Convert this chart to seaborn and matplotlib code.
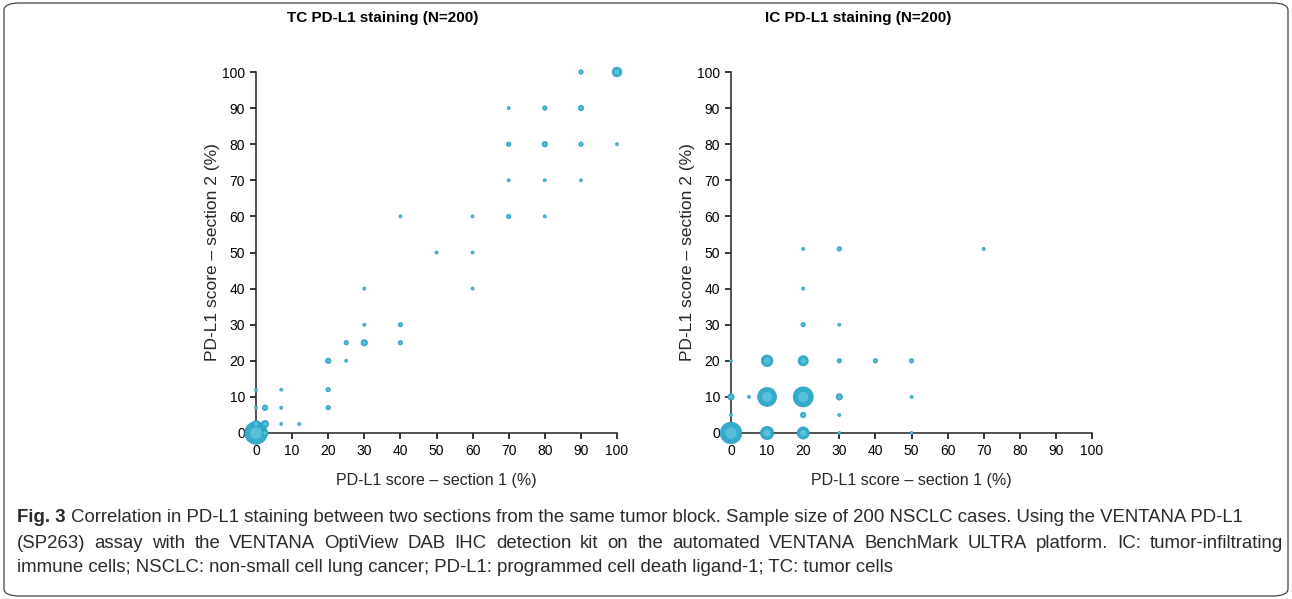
import pandas as pd
import seaborn as sns
import matplotlib.pyplot as plt
from matplotlib.patches import FancyBboxPatch

# TC panel: section 1 score, section 2 score, number of cases
tc_x = [0, 2.5, 0, 2.5, 7, 12, 0, 2.5, 7, 20, 0, 7, 20, 20, 25, 25, 30, 40, 30, 40,
        30, 60, 50, 60, 40, 60, 70, 80, 70, 80, 90, 70, 80, 90, 100, 70, 80, 90, 90, 100]
tc_y = [0, 0, 2.5, 2.5, 2.5, 2.5, 7, 7, 7, 7, 12, 12, 12, 20, 20, 25, 25, 25, 30, 30,
        40, 40, 50, 50, 60, 60, 60, 60, 70, 70, 70, 80, 80, 80, 80, 90, 90, 90, 100, 100]
tc_n = [48, 4, 5, 5, 1, 1, 1, 3, 1, 2, 1, 1, 2, 3, 1, 2, 4, 2, 1, 2,
        1, 1, 1, 1, 1, 1, 2, 1, 1, 1, 1, 2, 3, 2, 1, 1, 2, 3, 2, 9]

# IC panel
ic_x = [0, 10, 20, 30, 50, 0, 20, 30, 0, 5, 10, 20, 30, 50,
        0, 10, 20, 30, 40, 50, 20, 30, 20, 20, 30, 70]
ic_y = [0, 0, 0, 0, 0, 5, 5, 5, 10, 10, 10, 10, 10, 10,
        20, 20, 20, 20, 20, 20, 30, 30, 40, 51, 51, 51]
ic_n = [44, 17, 14, 1, 1, 1, 3, 1, 4, 1, 34, 38, 4, 1,
        1, 13, 10, 2, 2, 2, 2, 1, 1, 1, 2, 1]

ticks = list(range(0, 101, 10))
titles = ["TC PD-L1 staining (N=200)", "IC PD-L1 staining (N=200)"]
xlab = "PD-L1 score \u2013 section 1 (%)"
ylab = "PD-L1 score \u2013 section 2 (%)"

cap_bold = "Fig. 3"
cap_lines = [
    "Correlation in PD-L1 staining between two sections from the same tumor block. Sample size of 200 NSCLC cases. Using the VENTANA PD-L1",
    "(SP263) assay with the VENTANA OptiView DAB IHC detection kit on the automated VENTANA BenchMark ULTRA platform. IC: tumor-infiltrating",
    "immune cells; NSCLC: non-small cell lung cancer; PD-L1: programmed cell death ligand-1; TC: tumor cells",
]

sns.set_style("ticks")
plt.rcParams['font.family'] = ['Liberation Sans', 'DejaVu Sans']

W, H = 1292, 599
fig = plt.figure(figsize=(W / 100, H / 100), dpi=100)

def bubbles(ax, x, y, n):
    df = pd.DataFrame({'x': x, 'y': y, 'n': n})
    sns.scatterplot(data=df, x='x', y='y', size='n', sizes=(5.6, 280), size_norm=(1, 50),
                    color='#33abcb', edgecolor='#2890b0', linewidth=0.3, legend=False,
                    ax=ax, clip_on=False, zorder=3)
    sns.scatterplot(data=df, x='x', y='y', size='n', sizes=(1.5, 75), size_norm=(1, 50),
                    color='#78d2e6', linewidth=0, alpha=0.55, legend=False,
                    ax=ax, clip_on=False, zorder=4)
    ax.set_xlim(0, 100)
    ax.set_ylim(0, 100)
    ax.set_xticks(ticks)
    ax.set_yticks(ticks)
    ax.tick_params(direction='out', length=4.5, width=1.1, labelsize=10, colors='black')
    for s in ['top', 'right']:
        ax.spines[s].set_visible(False)
    for s in ['left', 'bottom']:
        ax.spines[s].set_linewidth(1.1)
        ax.spines[s].set_color('#222222')
    ax.set_xlabel(xlab, fontsize=11.5, labelpad=11)
    ax.set_ylabel(ylab, fontsize=12.5, labelpad=1)

ax1 = fig.add_axes([256 / W, 1 - 433 / H, 361 / W, 361 / H])
ax2 = fig.add_axes([731 / W, 1 - 433 / H, 361 / W, 361 / H])
bubbles(ax1, tc_x, tc_y, tc_n)
bubbles(ax2, ic_x, ic_y, ic_n)

# panel titles
for cx, title in zip([383, 858], titles):
    fig.text(cx / W, 1 - 18 / H, title, fontsize=11, fontweight='bold',
             ha='center', va='center', color='black')

# caption
cap_size = 13.4
cap_col = '#2a2a2a'
ys = [518, 543, 568]
r = fig.canvas.get_renderer()
t = fig.text(17 / W, 1 - ys[0] / H, cap_bold, fontsize=cap_size, fontweight='bold',
             va='center', color=cap_col)
bb = t.get_window_extent(renderer=r)
fig.text((bb.x1 + 5) / W, 1 - ys[0] / H, cap_lines[0], fontsize=cap_size,
         va='center', color=cap_col)

# second line is justified to the right margin
words = cap_lines[1].split()
widths = []
for w in words:
    tw = fig.text(0, 0, w, fontsize=cap_size)
    widths.append(tw.get_window_extent(renderer=r).width)
    tw.remove()
gap = (1283 - 17 - sum(widths)) / (len(words) - 1)
xpos = 17
for w, wd in zip(words, widths):
    fig.text(xpos / W, 1 - ys[1] / H, w, fontsize=cap_size, va='center', color=cap_col)
    xpos += wd + gap

fig.text(17 / W, 1 - ys[2] / H, cap_lines[2], fontsize=cap_size, va='center', color=cap_col)

# rounded frame round the figure
frame = FancyBboxPatch((4 / W, 3 / H), (W - 8) / W, (H - 6) / H,
                       boxstyle="round,pad=0,rounding_size=0.012",
                       transform=fig.transFigure, fill=False, edgecolor='#444444',
                       linewidth=0.9)
fig.patches.append(frame)

fig.savefig("out.png", dpi=100)
